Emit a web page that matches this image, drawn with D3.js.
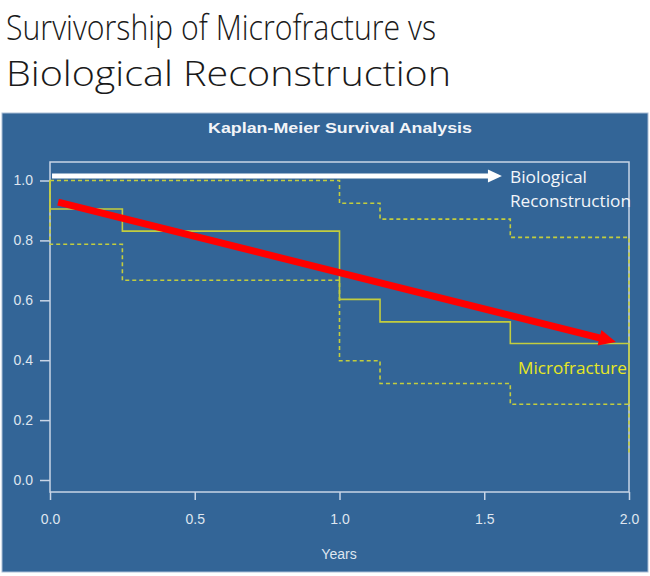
<!DOCTYPE html>
<html><head><meta charset="utf-8">
<script src="https://cdn.jsdelivr.net/npm/d3@7"></script>
<style>html,body{margin:0;padding:0;background:#fff;}svg{display:block;}</style>
</head><body>
<svg id="c" width="650" height="576"></svg>
<script>
// ---- data ----
const xTicks = [0, 0.5, 1.0, 1.5, 2.0];
const yTicks = [0, 0.2, 0.4, 0.6, 0.8, 1.0];
// Kaplan-Meier estimate (Microfracture): step times and survival
const kmTimes = [0, 0, 0.25, 1.0, 1.14, 1.59, 2.0];
const kmSurv  = [1.0, 0.905, 0.831, 0.603, 0.528, 0.456, 0.253];
// upper 95% confidence bound
const upTimes = [0, 1.0, 1.14, 1.59, 2.0];
const upSurv  = [1.0, 0.924, 0.871, 0.81, 0.456];
// lower 95% confidence bound
const loTimes = [0, 0, 0.25, 1.0, 1.14, 1.59, 2.0];
const loSurv  = [1.0, 0.787, 0.667, 0.398, 0.322, 0.253, 0.083];
// annotation arrows (data coordinates: [start, tip])
const whiteArrowX = [0.007, 1.561];
const whiteArrowY = [1.015, 1.015];
const redArrowX = [0.028, 1.955];
const redArrowY = [0.928, 0.461];

const svg = d3.select("#c");
const calibri = "'Open Sans', 'Noto Sans', sans-serif";
const helv = "'Liberation Sans', Arial, sans-serif";

// slide title
svg.append("text").attr("x", 6).attr("y", 40)
  .attr("font-family", calibri).attr("font-weight", 300).attr("font-size", 34)
  .attr("fill", "#1a1a1a").attr("textLength", 430).attr("lengthAdjust", "spacingAndGlyphs")
  .text("Survivorship of Microfracture vs");
svg.append("text").attr("x", 6).attr("y", 86)
  .attr("font-family", calibri).attr("font-weight", 300).attr("font-size", 34)
  .attr("fill", "#1a1a1a").attr("textLength", 445).attr("lengthAdjust", "spacingAndGlyphs")
  .text("Biological Reconstruction");

// panel
svg.append("rect").attr("x", 2).attr("y", 113).attr("width", 646).attr("height", 459)
  .attr("fill", "#336597").attr("stroke", "#a9bdd6").attr("stroke-width", 1);

svg.append("text").attr("x", 340).attr("y", 133).attr("text-anchor", "middle")
  .attr("font-family", helv).attr("font-weight", "bold").attr("font-size", 15)
  .attr("fill", "#f2f4f8").attr("textLength", 264).attr("lengthAdjust", "spacingAndGlyphs")
  .text("Kaplan-Meier Survival Analysis");

const x = d3.scaleLinear().domain([0, 2]).range([50, 629]);
const y = d3.scaleLinear().domain([0, 1]).range([480, 180.5]);
const axisCol = "#c9d5e6";

// box
svg.append("rect").attr("x", 50).attr("y", 162).attr("width", 579).attr("height", 330)
  .attr("fill", "none").attr("stroke", axisCol).attr("stroke-width", 1.5);

// y axis
const gy = svg.append("g").attr("transform", "translate(50,0)")
  .call(d3.axisLeft(y).tickValues(yTicks).tickFormat(d3.format(".1f")).tickSize(10).tickPadding(7));
gy.attr("font-size", null).attr("font-family", null);
gy.select(".domain").remove();
gy.selectAll("line").attr("stroke", axisCol).attr("stroke-width", 1.5);
gy.selectAll("text").attr("fill", "#dfe6f0").style("font-family", helv).style("font-size", "14px");

// x axis
const gx = svg.append("g").attr("transform", "translate(0,492)")
  .call(d3.axisBottom(x).tickValues(xTicks).tickFormat(d3.format(".1f")).tickSize(8).tickPadding(14));
gx.attr("font-size", null).attr("font-family", null);
gx.select(".domain").remove();
gx.selectAll("line").attr("stroke", axisCol).attr("stroke-width", 1.5);
gx.selectAll("text").attr("fill", "#dfe6f0").style("font-family", helv).style("font-size", "14px");

svg.append("text").attr("x", 339).attr("y", 559).attr("text-anchor", "middle")
  .attr("font-family", helv).attr("font-size", 14).attr("fill", "#dfe6f0").text("Years");

// KM curves
const step = d3.line().curve(d3.curveStepAfter).x(d => x(d[0])).y(d => y(d[1]));
const lineCol = "#c3cd3e";
svg.append("path").datum(upTimes.map((t, i) => [t, upSurv[i]])).attr("d", step)
  .attr("fill", "none").attr("stroke", lineCol).attr("stroke-width", 1.6).attr("stroke-dasharray", "4,3");
svg.append("path").datum(loTimes.map((t, i) => [t, loSurv[i]])).attr("d", step)
  .attr("fill", "none").attr("stroke", lineCol).attr("stroke-width", 1.6).attr("stroke-dasharray", "4,3");
svg.append("path").datum(kmTimes.map((t, i) => [t, kmSurv[i]])).attr("d", step)
  .attr("fill", "none").attr("stroke", lineCol).attr("stroke-width", 1.6);

// arrows
function arrow(xs, ys, col, w, headLen, headW) {
  const x0 = x(xs[0]), y0 = y(ys[0]), x1 = x(xs[1]), y1 = y(ys[1]);
  const ang = Math.atan2(y1 - y0, x1 - x0);
  const bx = x1 - headLen * Math.cos(ang), by = y1 - headLen * Math.sin(ang);
  svg.append("line").attr("x1", x0).attr("y1", y0).attr("x2", bx + Math.cos(ang)).attr("y2", by + Math.sin(ang))
    .attr("stroke", col).attr("stroke-width", w);
  const px = -Math.sin(ang) * headW / 2, py = Math.cos(ang) * headW / 2;
  svg.append("path").attr("d", `M${x1},${y1}L${bx + px},${by + py}L${bx - px},${by - py}Z`).attr("fill", col);
}
arrow(whiteArrowX, whiteArrowY, "#ffffff", 5, 14, 13);
arrow(redArrowX, redArrowY, "#ff0000", 7, 17, 16);

// labels
svg.append("text").attr("x", 510).attr("y", 183).attr("font-family", calibri).attr("font-size", 16)
  .attr("fill", "#f4f6fa").attr("textLength", 77).attr("lengthAdjust", "spacingAndGlyphs").text("Biological");
svg.append("text").attr("x", 510).attr("y", 207).attr("font-family", calibri).attr("font-size", 16)
  .attr("fill", "#f4f6fa").attr("textLength", 121).attr("lengthAdjust", "spacingAndGlyphs").text("Reconstruction");
svg.append("text").attr("x", 518).attr("y", 374).attr("font-family", calibri).attr("font-size", 16)
  .attr("fill", "#e8e822").attr("textLength", 109).attr("lengthAdjust", "spacingAndGlyphs").text("Microfracture");
</script>
</body></html>
